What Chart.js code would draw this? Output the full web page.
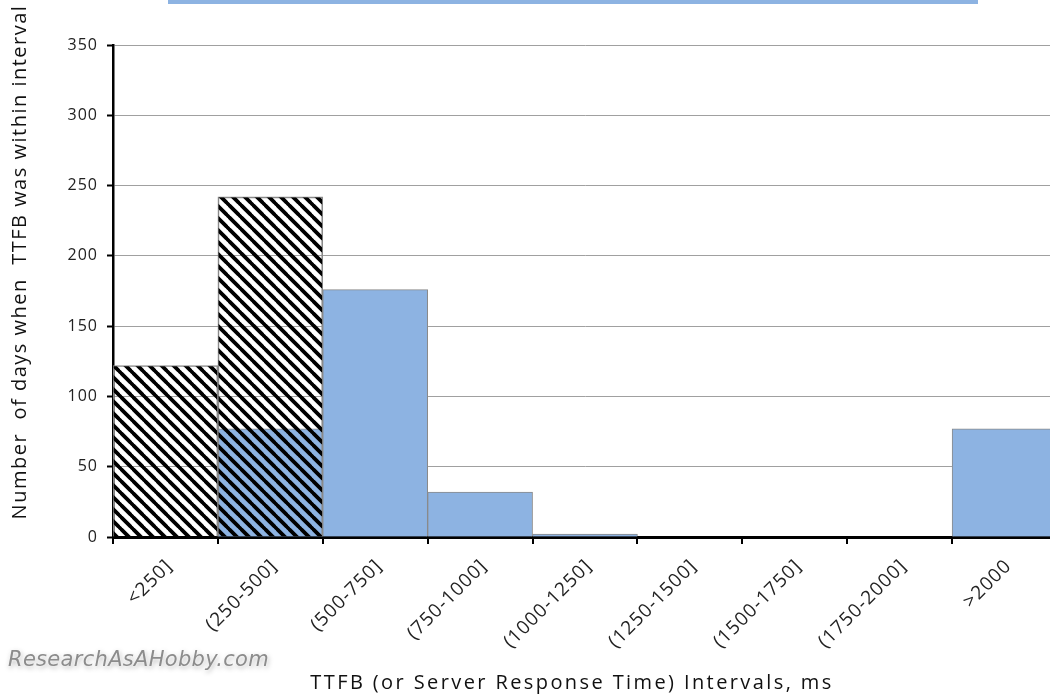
<!DOCTYPE html>
<html>
<head>
<meta charset="utf-8">
<script src="https://cdn.jsdelivr.net/npm/chart.js@4.4.0/dist/chart.umd.min.js"></script>
<style>
  body { margin:0; background:#fff; overflow:hidden; }
  #wrap { position:relative; width:1050px; height:698px; overflow:hidden; }
  #chart { position:absolute; left:0; top:0; }
  .titlebar { position:absolute; left:168px; top:0; width:810px; height:4px; background:#8db3e2; }
  .brand { position:absolute; left:8px; top:647px; font:italic 21px "DejaVu Sans"; color:#8c8c8c;
           text-shadow:0 0 3px #fff, 1px 2px 5px #aaa; letter-spacing:0.3px; }
</style>
</head>
<body>
<div id="wrap">
  <canvas id="chart" width="1060" height="698"></canvas>
  <div class="titlebar"></div>
  <div class="brand">ResearchAsAHobby.com</div>
</div>
<script>
var intervals = ["<250]", "(250-500]", "(500-750]", "(750-1000]", "(1000-1250]",
                 "(1250-1500]", "(1500-1750]", "(1750-2000]", ">2000"];
// hatched series (drawn on top, see-through)
var hatchedDays = [122, 242, 0, 0, 0, 0, 0, 0, 0];
// blue filled series
var blueDays = [0, 77, 176, 32, 2, 0, 0, 0, 77];
var yMax = 350, yStep = 50;
var xTitle = "TTFB (or Server Response Time) Intervals, ms";
var yTitle = "Number  of days when  TTFB was within interval";

function hatch(){
  var c = document.createElement("canvas");
  c.width = c.height = 12;
  var g = c.getContext("2d");
  g.strokeStyle = "#000";
  g.lineWidth = 3.8;
  g.beginPath();
  g.moveTo(-1, -1); g.lineTo(13, 13);
  g.moveTo(-1, 11); g.lineTo(1, 13);
  g.moveTo(11, -1); g.lineTo(13, 1);
  g.stroke();
  return document.getElementById("chart").getContext("2d").createPattern(c, "repeat");
}

var axisTitles = {
  id: "axisTitles",
  beforeDraw: function(chart){
    chart.ctx.letterSpacing = "1px";
  },
  afterDraw: function(chart){
    var ctx = chart.ctx, a = chart.chartArea;
    ctx.save();
    ctx.fillStyle = "#111";
    ctx.font = '20px "Open Sans"';
    ctx.textAlign = "center";
    ctx.textBaseline = "middle";
    ctx.letterSpacing = "2.4px";
    ctx.fillText(xTitle, (a.left + a.right) / 2 - 13, a.bottom + 146);
    ctx.letterSpacing = "1.5px";
    ctx.translate(20, (a.top + a.bottom) / 2 - 29);
    ctx.rotate(-Math.PI / 2);
    ctx.fillText(yTitle, 0, 0);
    ctx.restore();
  }
};

new Chart(document.getElementById("chart"), {
  type: "bar",
  data: {
    labels: intervals,
    datasets: [{
      data: hatchedDays,
      backgroundColor: hatch(),
      borderColor: "#8a8a8a",
      borderWidth: 1,
      order: 0
    }, {
      data: blueDays,
      backgroundColor: "#8db3e2",
      borderColor: "#8a8a8a",
      borderWidth: 1,
      order: 1
    }]
  },
  plugins: [axisTitles],
  options: {
    responsive: false,
    animation: false,
    layout: { padding: { top: 45, right: 3 } },
    plugins: { legend: { display: false }, tooltip: { enabled: false } },
    datasets: { bar: { grouped: false, categoryPercentage: 1, barPercentage: 1 } },
    scales: {
      x: {
        offset: true,
        grid: { offset: true, drawOnChartArea: false, color: "#000", lineWidth: 2, tickLength: 7 },
        border: { color: "#000", width: 3 },
        ticks: { autoSkip: false, minRotation: 45, maxRotation: 45, labelOffset: 4, padding: 11,
                 color: "#222", font: { family: "Open Sans", size: 19 } },
        afterFit: function(s){ s.height = 161; }
      },
      y: {
        min: 0, max: yMax,
        grid: { color: "#a0a0a0", lineWidth: 1, tickColor: "#000", tickLength: 6, tickWidth: 2 },
        border: { color: "#000", width: 2.5 },
        ticks: { stepSize: yStep, padding: 9, color: "#222", font: { family: "Open Sans", size: 16 } },
        afterFit: function(s){ s.width = 113; }
      }
    }
  }
});
</script>
</body>
</html>
